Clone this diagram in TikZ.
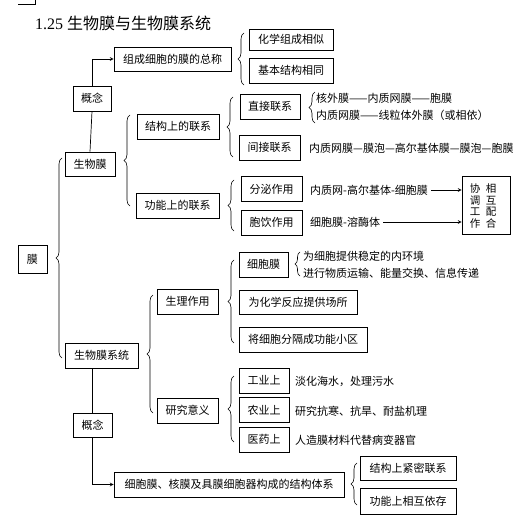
\documentclass[tikz,border=0pt]{standalone}
\usepackage{fontspec}
\setmainfont{Liberation Serif}
\newfontfamily\cjk{Noto Sans CJK SC}
\usetikzlibrary{decorations.pathreplacing}

\tikzset{
  box/.style={draw,line width=0.8pt,inner sep=0pt,minimum height=25pt},
  txt/.style={anchor=west,inner sep=0pt},
  brc/.style={decorate,decoration={brace,amplitude=6pt},line width=0.6pt}
}

\begin{document}
\begin{tikzpicture}[x=1pt,y=-1pt,>=stealth,font=\cjk\fontsize{11}{12}\selectfont]
    \useasboundingbox (0,0) rectangle (532,524);
    \draw[line width=0.5pt] (18,4) -- (35,4) -- (35,0);

    \node[txt,font=\fontsize{16}{18}\selectfont] (title) at (35,23)
    {1.25 {\cjk 生物膜与生物膜系统}};

    % left column
    \node[box,minimum width=29pt,minimum height=28pt] (mo) at (32.5,259) {膜};
    \node[box,minimum width=38pt] (gn1) at (92,98.5) {概念};
    \node[box,minimum width=50pt,minimum height=24pt] (sw) at (90,164) {生物膜};
    \node[box,minimum width=73pt] (swx) at (101.5,355.5) {生物膜系统};
    \node[box,minimum width=39pt,minimum height=24pt] (gn2) at (92.5,425) {概念};

    % second column
    \node[box,minimum width=117pt,minimum height=24pt] (zc) at (172.5,59) {组成细胞的膜的总称};
    \node[box,minimum width=82pt] (jg) at (178,126.5) {结构上的联系};
    \node[box,minimum width=83pt] (gnl) at (177.5,205.5) {功能上的联系};
    \node[box,minimum width=61pt] (sl) at (187.5,301.5) {生理作用};
    \node[box,minimum width=61pt] (yj) at (187.5,410.5) {研究意义};
    \node[box,minimum width=230pt] (tx) at (229,484.5) {细胞膜、核膜及具膜细胞器构成的结构体系};

    % third column
    \node[box,minimum width=84pt,minimum height=21pt] (hx) at (291,39.5) {化学组成相似};
    \node[box,minimum width=84pt] (jb) at (291,70.5) {基本结构相同};
    \node[box,minimum width=60pt] (zj) at (270,106.5) {直接联系};
    \node[box,minimum width=61pt] (jj) at (269.5,147.5) {间接联系};
    \node[box,minimum width=61pt] (fm) at (271.5,189) {分泌作用};
    \node[box,minimum width=61pt] (by) at (271.5,222.5) {胞饮作用};
    \node[box,minimum width=49pt] (xbm) at (263.5,264.5) {细胞膜};
    \node[box,minimum width=118pt,minimum height=24pt] (hxfy) at (298,302) {为化学反应提供场所};
    \node[box,minimum width=128pt] (fg) at (303,339.5) {将细胞分隔成功能小区};
    \node[box,minimum width=50pt] (gy) at (264,380.5) {工业上};
    \node[box,minimum width=50pt] (ny) at (264,410) {农业上};
    \node[box,minimum width=50pt] (yy) at (264,439.5) {医药上};
    \node[box,minimum width=96pt,minimum height=24pt] (jm) at (408,468) {结构上紧密联系};
    \node[box,minimum width=96pt,minimum height=26pt] (xy) at (408,501) {功能上相互依存};
    \node[box,minimum width=48pt,minimum height=58pt] (xt) at (486,205) {};
    \node[inner sep=0pt,font=\cjk\fontsize{10.5}{11.5}\selectfont,align=center] (xtl) at (475,206) {协\\调\\工\\作};
    \node[inner sep=0pt,font=\cjk\fontsize{10.5}{11.5}\selectfont,align=center] (xtr) at (491,206) {相\\互\\配\\合};

    % plain texts
    \node[txt] (t1) at (316,98) {核外膜——内质网膜——胞膜};
    \node[txt] (t2) at (316,115) {内质网膜——线粒体外膜（或相依）};
    \node[txt] (t3) at (309,148) {内质网膜—膜泡—高尔基体膜—膜泡—胞膜};
    \node[txt] (t4) at (310,190) {内质网-高尔基体-细胞膜};
    \node[txt] (t5) at (310,222) {细胞膜-溶酶体};
    \node[txt] (t6) at (303,256) {为细胞提供稳定的内环境};
    \node[txt] (t7) at (303,273) {进行物质运输、能量交换、信息传递};
    \node[txt] (t8) at (295,381) {淡化海水，处理污水};
    \node[txt] (t9) at (295,411) {研究抗寒、抗旱、耐盐机理};
    \node[txt] (t10) at (295,440) {人造膜材料代替病变器官};

    % lines and arrows
    \draw[->,line width=0.7pt] (gn1.north) |- (zc.west);
    \draw[line width=0.7pt] (gn1.south) -- (sw.north);
    \draw[line width=0.7pt] (gn2.north) -- (gn2.north |- swx.south);
    \draw[->,line width=0.7pt] (gn2.south) |- (tx.west);
    \draw[->,line width=0.7pt] ([xshift=3pt]t4.east) -- (t4.east -| xt.west);
    \draw[->,line width=0.7pt] ([xshift=3pt]t5.east) -- (t5.east -| xt.west);

    % braces
    \draw[brc] (244,85) -- (244,33);
    \draw[brc] (130,206) -- (130,115);
    \draw[brc] (233,157) -- (233,97);
    \draw[brc] (315,123) -- (315,92);
    \draw[brc] (234,231) -- (234,180);
    \draw[brc] (62,358) -- (62,158);
    \draw[brc] (153,413) -- (153,295);
    \draw[brc] (234,343) -- (234,260);
    \draw[brc,decoration={amplitude=5pt}] (300,276) -- (300,252);
    \draw[brc] (234,442) -- (234,376);
    \draw[brc] (357,505) -- (357,463);

  \end{tikzpicture}
\end{document}
